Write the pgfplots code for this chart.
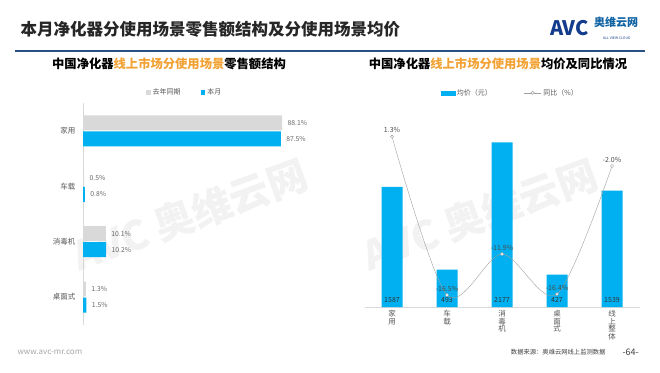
\documentclass[border=0pt]{standalone}
\usepackage{fontspec}
\setmainfont{Noto Sans CJK SC}
\usepackage{pgfplots}
\pgfplotsset{compat=1.18}
\newcommand{\fs}[1]{\fontsize{#1}{#1}\selectfont}
\definecolor{cyanbar}{RGB}{0,176,240}
\definecolor{graybar}{RGB}{217,217,217}
\definecolor{linegray}{RGB}{160,160,160}
\definecolor{labelgray}{RGB}{89,89,89}
\definecolor{titlegray}{RGB}{38,38,38}
\definecolor{titleblue}{RGB}{40,80,130}
\definecolor{orange1}{RGB}{242,162,52}
\definecolor{logoblue}{RGB}{20,60,140}
\begin{document}
\begin{tikzpicture}[x=1pt,y=1pt]
\useasboundingbox (0,0) rectangle (660,-372);
\fill[white] (0,0) rectangle (660,-372);
% watermarks
\node[rotate=20, text=black!5, font={\bfseries\fs{40}}] at (190,-215) {AVC 奥维云网};
\node[rotate=20, text=black!5, font={\bfseries\fs{40}}] at (480,-215) {AVC 奥维云网};
% title
\node[anchor=west, font={\bfseries\fs{16.5}}, text=titlegray] at (17,-29) {本月净化器分使用场景零售额结构及分使用场景均价};
\draw[line width=2pt, color=titleblue] (15,-51) -- (645,-51);
% logo
\node[anchor=west, font={\bfseries\fs{20}}, text=logoblue, inner sep=0pt] at (550,-28) {AVC};
\node[anchor=west, font={\bfseries\fs{11}}, text=logoblue!80!cyan, inner sep=0pt] at (594,-22) {奥维云网};
\node[anchor=west, font={\fs{3.5}}, text=logoblue, inner sep=0pt] at (603,-38) {ALL VIEW CLOUD};
% subtitles
\node[font={\bfseries\fs{12.3}}, text=black] at (169,-64) {中国净化器\textcolor{orange1}{线上市场分使用场景}零售额结构};
\node[font={\bfseries\fs{12.3}}, text=black] at (498,-64) {中国净化器\textcolor{orange1}{线上市场分使用场景}均价及同比情况};
% footer
\node[anchor=west, font={\fs{8}}, text=black!35] at (14,-352) {www.avc-mr.com};
\node[anchor=east, font={\fs{6.3}}, text=black!75] at (609,-352) {数据来源：奥维云网线上监测数据};
\node[anchor=west, font={\fs{9}}, text=black!75] at (619,-352) {-64-};

% left chart
\begin{axis}[
  at={(83pt,-324.7pt)}, anchor=south west,
  scale only axis, width=226pt, height=221.4pt,
  xmin=0, xmax=100, ymin=-0.5, ymax=3.5,
  hide x axis,
  axis y line*=left, y axis line style={draw=black!15},
  ytick={0,1,2,3}, yticklabels={桌面式,消毒机,车载,家用},
  ytick style={draw=none},
  yticklabel style={font={\fs{7.5}}, text=labelgray, xshift=-4pt},
  bar width=15pt,
  legend style={at={(0.45,1.05)}, anchor=center, draw=none, fill=none, font={\fs{7}}, text=labelgray,
     legend columns=2, /tikz/every even column/.append style={column sep=18pt}},
  legend image code/.code={\fill[#1] (0pt,-2.3pt) rectangle (4.6pt,2.3pt);},
]
\addplot[xbar, fill=graybar, draw=none, bar shift=8pt, nodes near coords, point meta=explicit symbolic,
  nodes near coords style={anchor=west, font={\fs{6.8}}, text=black!60, xshift=2pt, yshift=8pt}]
  coordinates {(88.1,3) [88.1\%] (0.5,2) [0.5\%] (10.1,1) [10.1\%] (1.3,0) [1.3\%]};
\addlegendentry{去年同期}
\addplot[xbar, fill=cyanbar, draw=none, bar shift=-8pt, nodes near coords, point meta=explicit symbolic,
  nodes near coords style={anchor=west, font={\fs{6.8}}, text=black!60, xshift=2pt, yshift=-8pt}]
  coordinates {(87.5,3) [87.5\%] (0.8,2) [0.8\%] (10.2,1) [10.2\%] (1.5,0) [1.5\%]};
\addlegendentry{本月}
\end{axis}

% right chart: bars
\begin{axis}[
  at={(364.5pt,-307pt)}, anchor=south west,
  scale only axis, width=275pt, height=197pt,
  xmin=-0.5, xmax=4.5, ymin=0, ymax=2605,
  hide y axis,
  axis x line*=bottom, x axis line style={draw=black!15},
  xtick={0,1,2,3,4},
  xticklabels={{家\\用},{车\\载},{消\\毒\\机},{桌\\面\\式},{线\\上\\整\\体}},
  xticklabel style={align=center, font={\fs{7.5}}, text=labelgray},
  xtick style={draw=none},
]
\addplot[ybar, bar width=21pt, fill=cyanbar, draw=none]
  coordinates {(0,1587) (1,493) (2,2177) (3,427) (4,1539)};
\addplot[draw=none, mark=none, nodes near coords, point meta=explicit symbolic,
  nodes near coords style={anchor=south, font={\fs{7}}, text=black!80, yshift=1pt}]
  coordinates {(0,0) [1587] (1,0) [493] (2,0) [2177] (3,0) [427] (4,0) [1539]};
\end{axis}

% right chart: line
\begin{axis}[
  at={(364.5pt,-307pt)}, anchor=south west,
  scale only axis, width=275pt, height=197pt,
  xmin=-0.5, xmax=4.5, ymin=-17.85, ymax=4.29,
  hide x axis, hide y axis,
  legend style={at={(0.53,1.087)}, anchor=center, draw=none, fill=none, font={\fs{7}}, text=labelgray,
     legend columns=2, /tikz/every even column/.append style={column sep=30pt}},
]
\addlegendimage{legend image code/.code={\fill[cyanbar] (0pt,-2pt) rectangle (14pt,2pt);}}
\addlegendentry{均价（元）}
\addplot[smooth, color=linegray, thin, mark=*, mark size=1.6pt, mark options={fill=white, draw=linegray},
  nodes near coords, point meta=explicit symbolic,
  nodes near coords style={font={\fs{7}}, text=black!70}]
  coordinates {(0,1.3) [1.3\%] (1,-16.5) [-16.5\%] (2,-11.9) [-11.9\%] (3,-16.4) [-16.4\%] (4,-2.0) [-2.0\%]};
\addlegendentry{同比（\%）}
\end{axis}
\end{tikzpicture}
\end{document}
